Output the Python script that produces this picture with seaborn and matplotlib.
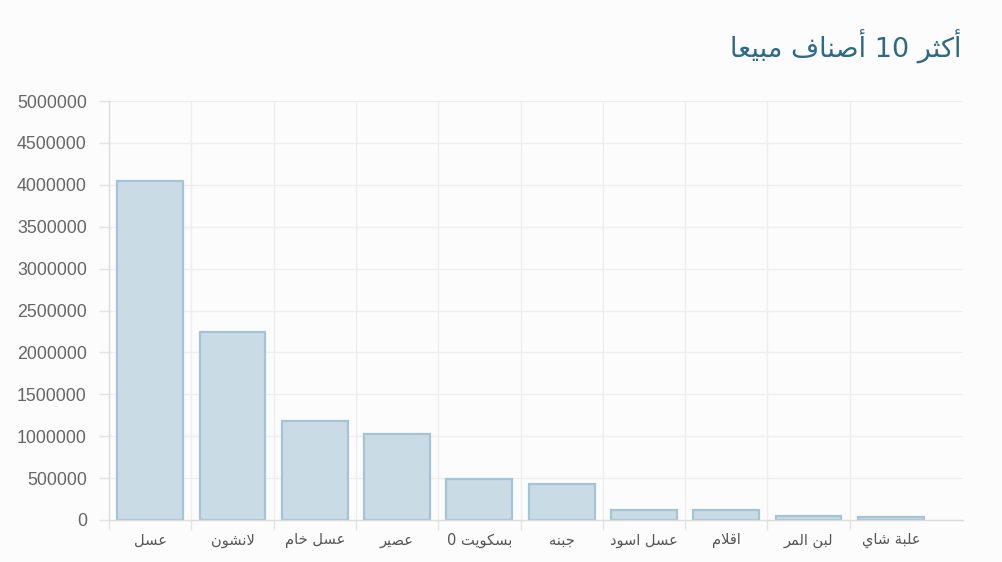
import re
import matplotlib
matplotlib.use("Agg")
import matplotlib.pyplot as plt
import seaborn as sns
import pandas as pd
from matplotlib.ticker import FixedLocator

# data
title = "أكثر 10 أصناف مبيعا"
products = ["عسل", "لانشون", "عسل خام", "عصير", "بسكويت 0",
            "جبنه", "عسل اسود", "اقلام", "لبن المر", "علبة شاي"]
sales = [4040000, 2245000, 1180000, 1025000, 490000,
         430000, 120000, 115000, 50000, 40000]
y_ticks = [0, 500000, 1000000, 1500000, 2000000, 2500000,
           3000000, 3500000, 4000000, 4500000, 5000000]

# arabic presentation forms: isolated, final, initial, medial
FORMS = {
    'ا': ('\uFE8D', '\uFE8E', None, None),
    'أ': ('\uFE83', '\uFE84', None, None),
    'ب': ('\uFE8F', '\uFE90', '\uFE91', '\uFE92'),
    'ة': ('\uFE93', '\uFE94', None, None),
    'ت': ('\uFE95', '\uFE96', '\uFE97', '\uFE98'),
    'ث': ('\uFE99', '\uFE9A', '\uFE9B', '\uFE9C'),
    'ج': ('\uFE9D', '\uFE9E', '\uFE9F', '\uFEA0'),
    'ح': ('\uFEA1', '\uFEA2', '\uFEA3', '\uFEA4'),
    'خ': ('\uFEA5', '\uFEA6', '\uFEA7', '\uFEA8'),
    'د': ('\uFEA9', '\uFEAA', None, None),
    'ر': ('\uFEAD', '\uFEAE', None, None),
    'س': ('\uFEB1', '\uFEB2', '\uFEB3', '\uFEB4'),
    'ش': ('\uFEB5', '\uFEB6', '\uFEB7', '\uFEB8'),
    'ص': ('\uFEB9', '\uFEBA', '\uFEBB', '\uFEBC'),
    'ط': ('\uFEC1', '\uFEC2', '\uFEC3', '\uFEC4'),
    'ع': ('\uFEC9', '\uFECA', '\uFECB', '\uFECC'),
    'ف': ('\uFED1', '\uFED2', '\uFED3', '\uFED4'),
    'ق': ('\uFED5', '\uFED6', '\uFED7', '\uFED8'),
    'ك': ('\uFED9', '\uFEDA', '\uFEDB', '\uFEDC'),
    'ل': ('\uFEDD', '\uFEDE', '\uFEDF', '\uFEE0'),
    'م': ('\uFEE1', '\uFEE2', '\uFEE3', '\uFEE4'),
    'ن': ('\uFEE5', '\uFEE6', '\uFEE7', '\uFEE8'),
    'ه': ('\uFEE9', '\uFEEA', '\uFEEB', '\uFEEC'),
    'و': ('\uFEED', '\uFEEE', None, None),
    'ي': ('\uFEF1', '\uFEF2', '\uFEF3', '\uFEF4'),
    'لا': ('\uFEFB', '\uFEFC', None, None),
    'لأ': ('\uFEF7', '\uFEF8', None, None),
}


def ar(text):
    # join letters and put them in visual (left to right) order
    units = []
    i = 0
    while i < len(text):
        if text[i] == 'ل' and i + 1 < len(text) and text[i:i + 2] in FORMS:
            units.append(text[i:i + 2])
            i += 2
        else:
            units.append(text[i])
            i += 1
    out = []
    for k, u in enumerate(units):
        if u not in FORMS:
            out.append(u)
            continue
        prev = units[k - 1] if k > 0 else None
        nxt = units[k + 1] if k + 1 < len(units) else None
        p = prev in FORMS and FORMS[prev][2] is not None
        n = nxt in FORMS and FORMS[u][2] is not None
        iso, fin, ini, med = FORMS[u]
        out.append(med if p and n else fin if p else ini if n else iso)
    tokens = re.findall(r'[0-9]+|.', ''.join(out))
    return ''.join(reversed(tokens))


df = pd.DataFrame({"product": products, "sales": sales})

W, H = 1002, 562
fig = plt.figure(figsize=(W / 100, H / 100), dpi=100, facecolor="#fcfcfc")
ax = fig.add_axes([109 / W, 1 - 520 / H, (963 - 109) / W, (520 - 101) / H])
ax.set_facecolor("#fcfcfc")

sns.barplot(data=df, x="product", y="sales", color="#c9dce6", width=0.8,
            edgecolor="#a4c3d4", linewidth=1.6, saturation=1, ax=ax)

ax.set_xlim(-0.5, -0.5 + (963 - 109) / 82.3)
ax.set_ylim(0, 5000000)
ax.set_yticks(y_ticks)
ax.set_yticklabels([str(v) for v in y_ticks], fontsize=12.8, color="#666666",
                   family=["Liberation Sans", "DejaVu Sans"])
ax.set_xticks(range(len(products)))
ax.set_xticklabels([ar(p) for p in products], fontsize=10.5, color="#555555",
                   family=["DejaVu Sans"])
ax.set_xlabel("")
ax.set_ylabel("")

ax.xaxis.set_minor_locator(FixedLocator([k - 0.5 for k in range(len(products))]))
ax.tick_params(axis="x", which="major", length=0, pad=9)
ax.tick_params(axis="x", which="minor", length=7, color="#e3e3e3", width=1)
ax.tick_params(axis="y", length=7, color="#e3e3e3", width=1, pad=9)
ax.grid(axis="y", color="#eeeeee", linewidth=1)
ax.grid(axis="x", which="minor", color="#eeeeee", linewidth=1)
ax.set_axisbelow(True)
for s in ["top", "right"]:
    ax.spines[s].set_visible(False)
for s in ["left", "bottom"]:
    ax.spines[s].set_color("#dddddd")
    ax.spines[s].set_linewidth(1)

fig.text(962 / W, 1 - 47 / H, ar(title), ha="right", va="center",
         fontsize=19.5, color="#2c6b88", family=["DejaVu Sans"])

fig.savefig("out.png", dpi=100, facecolor=fig.get_facecolor())
